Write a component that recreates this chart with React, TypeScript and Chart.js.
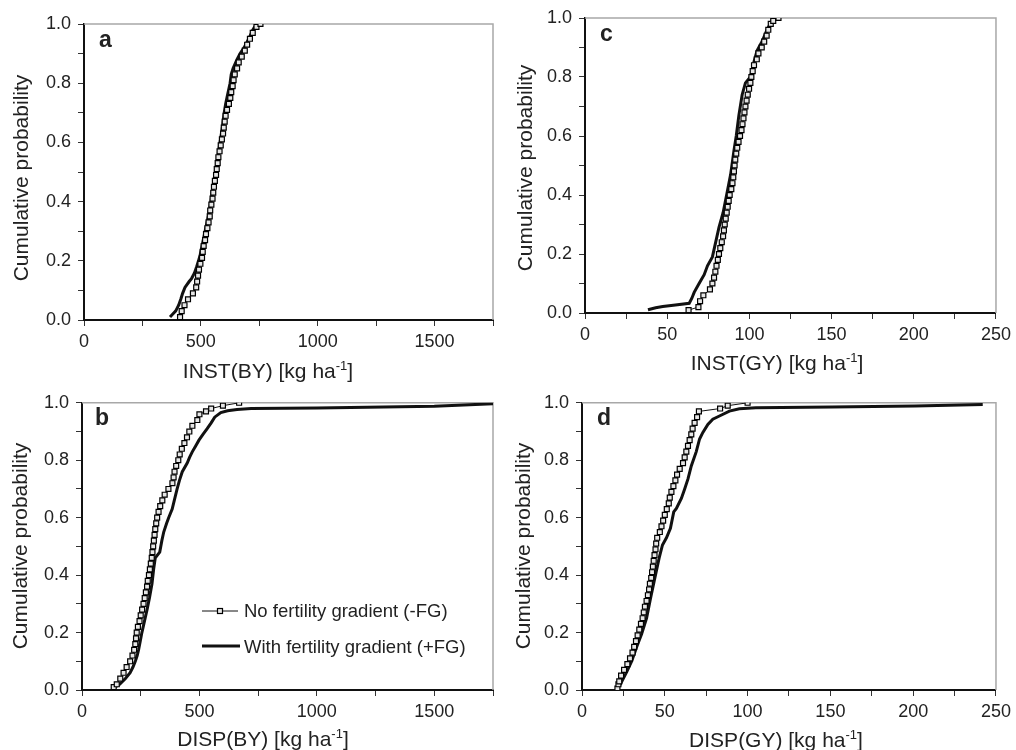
import React, { useEffect, useRef } from 'react';
import { Chart, registerables } from 'chart.js';
Chart.register(...registerables);

// ---------------- DATA ----------------
// Panel a: INST(BY)
const instBY_noFG_x = [411, 418, 430, 445, 466, 480, 484, 488, 492, 498, 505, 508, 512, 518, 522, 528, 533, 538, 540, 545, 550, 553, 556, 560, 565, 568, 572, 575, 580, 585, 590, 595, 598, 602, 606, 612, 620, 626, 630, 636, 640, 645, 655, 662, 675, 688, 698, 710, 722, 738, 755];
const instBY_noFG_p = [0.01, 0.03, 0.05, 0.07, 0.09, 0.11, 0.13, 0.15, 0.17, 0.19, 0.21, 0.23, 0.25, 0.27, 0.29, 0.31, 0.33, 0.35, 0.37, 0.39, 0.41, 0.43, 0.45, 0.47, 0.49, 0.51, 0.53, 0.55, 0.57, 0.59, 0.61, 0.63, 0.65, 0.67, 0.69, 0.71, 0.73, 0.75, 0.77, 0.79, 0.81, 0.83, 0.85, 0.87, 0.89, 0.91, 0.93, 0.95, 0.97, 0.99, 1.0];
const instBY_FG_x = [368, 380, 392, 405, 414, 422, 432, 450, 460, 467, 473, 482, 490, 497, 505, 518, 532, 543, 552, 562, 572, 582, 592, 600, 606, 614, 625, 630, 638, 655, 668, 685, 705, 722, 738];
const instBY_FG_p = [0.01, 0.02, 0.03, 0.05, 0.07, 0.09, 0.11, 0.13, 0.14, 0.15, 0.16, 0.18, 0.20, 0.22, 0.25, 0.30, 0.35, 0.40, 0.45, 0.50, 0.55, 0.60, 0.65, 0.70, 0.73, 0.76, 0.80, 0.83, 0.85, 0.88, 0.90, 0.92, 0.95, 0.98, 1.0];

// Panel b: DISP(BY)
const dispBY_noFG_x = [135, 148, 163, 177, 190, 205, 215, 222, 227, 230, 233, 238, 245, 250, 256, 262, 267, 272, 277, 280, 285, 289, 293, 297, 300, 303, 306, 309, 312, 316, 320, 326, 333, 342, 352, 368, 385, 390, 394, 401, 410, 416, 425, 436, 447, 457, 470, 491, 500, 528, 550, 600, 669];
const dispBY_noFG_p = [0.01, 0.02, 0.04, 0.06, 0.08, 0.10, 0.12, 0.14, 0.16, 0.18, 0.20, 0.22, 0.24, 0.26, 0.28, 0.30, 0.32, 0.34, 0.36, 0.38, 0.40, 0.42, 0.44, 0.46, 0.48, 0.50, 0.52, 0.54, 0.56, 0.58, 0.60, 0.62, 0.64, 0.66, 0.68, 0.70, 0.72, 0.74, 0.76, 0.78, 0.80, 0.82, 0.84, 0.86, 0.88, 0.90, 0.92, 0.94, 0.96, 0.97, 0.98, 0.99, 1.0];
const dispBY_FG_x = [127, 160, 185, 205, 217, 227, 235, 241, 248, 255, 266, 277, 287, 298, 305, 312, 331, 340, 348, 360, 369, 384, 393, 405, 415, 427, 448, 458, 470, 484, 498, 515, 533, 550, 565, 591, 620, 660, 720, 1000, 1500, 1750];
const dispBY_FG_p = [0.003, 0.02, 0.04, 0.06, 0.08, 0.10, 0.12, 0.14, 0.17, 0.20, 0.24, 0.28, 0.32, 0.37, 0.42, 0.46, 0.48, 0.52, 0.55, 0.58, 0.60, 0.63, 0.66, 0.70, 0.73, 0.76, 0.79, 0.81, 0.83, 0.85, 0.87, 0.89, 0.91, 0.93, 0.95, 0.966, 0.972, 0.977, 0.98, 0.982, 0.988, 0.997];

// Panel c: INST(GY)
const instGY_noFG_x = [63, 69, 70, 72, 76, 77.5, 78.5, 79.3, 80, 80.8, 81.5, 82.3, 83.2, 84, 84.5, 85, 85.6, 86.2, 86.8, 87.4, 88, 89, 89.7, 90.2, 90.6, 91, 91.4, 92, 92.6, 93.4, 94.3, 95.2, 95.8, 96.4, 97, 97.6, 98.3, 99, 99.8, 100.6, 101.2, 102, 102.8, 104.5, 105.5, 107.5, 109, 110.5, 111.5, 113, 114.5, 117.7];
const instGY_noFG_p = [0.01, 0.02, 0.04, 0.06, 0.08, 0.10, 0.12, 0.14, 0.16, 0.18, 0.20, 0.22, 0.24, 0.26, 0.28, 0.30, 0.32, 0.34, 0.36, 0.38, 0.40, 0.42, 0.44, 0.46, 0.48, 0.50, 0.52, 0.54, 0.56, 0.58, 0.60, 0.62, 0.64, 0.66, 0.68, 0.70, 0.72, 0.74, 0.76, 0.78, 0.80, 0.82, 0.84, 0.86, 0.88, 0.90, 0.92, 0.94, 0.96, 0.98, 0.99, 1.0];
const instGY_FG_x = [38.3, 43, 47.3, 55, 63.4, 65, 66.4, 69.4, 72.5, 74.5, 77.5, 79.5, 81.5, 84, 86.5, 88.6, 90.6, 92, 93.6, 95.6, 97.6, 100.6, 102.7, 104.7, 107.7, 110.7, 113.7, 116.7];
const instGY_FG_p = [0.011, 0.018, 0.022, 0.027, 0.033, 0.05, 0.07, 0.10, 0.13, 0.16, 0.19, 0.24, 0.29, 0.34, 0.41, 0.47, 0.55, 0.60, 0.67, 0.74, 0.78, 0.80, 0.85, 0.89, 0.92, 0.96, 0.99, 1.0];

// Panel d: DISP(GY)
const dispGY_noFG_x = [21.4, 22, 22.5, 23.6, 25.4, 27.4, 29, 30.5, 31.5, 32.6, 33.6, 34.6, 35.6, 36.6, 37.3, 38, 39, 39.8, 40.5, 41, 41.8, 42.3, 42.8, 43.3, 43.8, 44.4, 44.8, 45.4, 47, 48, 49, 50, 51.2, 52.4, 53, 54, 55.2, 56.4, 57.4, 59, 61, 62, 63, 64, 65, 66, 66.8, 68, 69.5, 70.6, 83.4, 88, 100];
const dispGY_noFG_p = [0.005, 0.02, 0.03, 0.05, 0.07, 0.09, 0.11, 0.13, 0.15, 0.17, 0.19, 0.21, 0.23, 0.25, 0.27, 0.29, 0.31, 0.33, 0.35, 0.37, 0.39, 0.41, 0.43, 0.45, 0.47, 0.49, 0.51, 0.53, 0.55, 0.57, 0.59, 0.61, 0.63, 0.65, 0.67, 0.69, 0.71, 0.73, 0.75, 0.77, 0.79, 0.81, 0.83, 0.85, 0.87, 0.89, 0.91, 0.93, 0.95, 0.97, 0.98, 0.99, 1.0];
const dispGY_FG_x = [21, 23.4, 27, 30, 33, 36, 39, 41.4, 44, 46.6, 48.6, 51, 53.4, 55.4, 57, 60, 62, 64, 66, 69, 71, 73, 76, 79, 83, 89, 95, 105, 151, 201, 242];
const dispGY_FG_p = [0, 0.023, 0.063, 0.10, 0.15, 0.195, 0.25, 0.32, 0.39, 0.46, 0.505, 0.53, 0.563, 0.62, 0.632, 0.667, 0.70, 0.735, 0.78, 0.83, 0.874, 0.897, 0.925, 0.943, 0.954, 0.971, 0.979, 0.983, 0.985, 0.989, 0.994];

// Tick labels & texts
const yTickLabels = ['0.0', '0.2', '0.4', '0.6', '0.8', '1.0'];
const xTickLabelsBY = ['0', '500', '1000', '1500'];
const xTickLabelsGY = ['0', '50', '100', '150', '200', '250'];
const yTitle = 'Cumulative probability';
const legendLabels = ['No fertility gradient (-FG)', 'With fertility gradient (+FG)'];

// ---------------- LAYOUT ----------------
const FONT = '"Liberation Sans", Arial, Helvetica, sans-serif';

type Box = { left: number; top: number; w: number; h: number };
type Area = { l: number; t: number; r: number; b: number };
type PanelDef = {
  id: string;
  letter: string;
  canvas: Box;
  area: Area;
  xMax: number;
  xStep: number;
  xLabels: string[];
  xTitle: string;
  xTitleX: number;
  xTitleBase: number;
  yTitleX: number;
  yTitleY: number;
  letterX: number;
  letterBase: number;
  noFG: { x: number[]; p: number[] };
  FG: { x: number[]; p: number[] };
  legend: boolean;
};

const panels: PanelDef[] = [
  {
    id: 'a', letter: 'a',
    canvas: { left: 0, top: 0, w: 500, h: 385 },
    area: { l: 84, t: 24, r: 493, b: 320 },
    xMax: 1750, xStep: 250, xLabels: xTickLabelsBY,
    xTitle: 'INST(BY) [kg ha', xTitleX: 268, xTitleBase: 378,
    yTitleX: 22, yTitleY: 178,
    letterX: 99, letterBase: 47,
    noFG: { x: instBY_noFG_x, p: instBY_noFG_p },
    FG: { x: instBY_FG_x, p: instBY_FG_p },
    legend: false,
  },
  {
    id: 'c', letter: 'c',
    canvas: { left: 500, top: 0, w: 516, h: 385 },
    area: { l: 585, t: 18, r: 999, b: 313 },
    xMax: 250, xStep: 25, xLabels: xTickLabelsGY,
    xTitle: 'INST(GY) [kg ha', xTitleX: 777, xTitleBase: 370,
    yTitleX: 526, yTitleY: 168,
    letterX: 600, letterBase: 41,
    noFG: { x: instGY_noFG_x, p: instGY_noFG_p },
    FG: { x: instGY_FG_x, p: instGY_FG_p },
    legend: false,
  },
  {
    id: 'b', letter: 'b',
    canvas: { left: 0, top: 385, w: 500, h: 365 },
    area: { l: 82, t: 400, r: 493, b: 690 },
    xMax: 1750, xStep: 250, xLabels: xTickLabelsBY,
    xTitle: 'DISP(BY) [kg ha', xTitleX: 263, xTitleBase: 746,
    yTitleX: 21, yTitleY: 546,
    letterX: 95, letterBase: 425,
    noFG: { x: dispBY_noFG_x, p: dispBY_noFG_p },
    FG: { x: dispBY_FG_x, p: dispBY_FG_p },
    legend: true,
  },
  {
    id: 'd', letter: 'd',
    canvas: { left: 500, top: 385, w: 516, h: 365 },
    area: { l: 582, t: 400, r: 998, b: 690 },
    xMax: 250, xStep: 25, xLabels: xTickLabelsGY,
    xTitle: 'DISP(GY) [kg ha', xTitleX: 776, xTitleBase: 747,
    yTitleX: 524, yTitleY: 546,
    letterX: 597, letterBase: 425,
    noFG: { x: dispGY_noFG_x, p: dispGY_noFG_p },
    FG: { x: dispGY_FG_x, p: dispGY_FG_p },
    legend: false,
  },
];

const toPts = (s: { x: number[]; p: number[] }) => s.x.map((x, i) => ({ x, y: s.p[i] }));

function drawSquare(ctx: CanvasRenderingContext2D, x: number, y: number) {
  ctx.fillStyle = '#e6e6e6';
  ctx.fillRect(x - 2.5, y - 2.5, 5, 5);
  ctx.strokeStyle = '#000';
  ctx.lineWidth = 1.2;
  ctx.strokeRect(x - 2.5, y - 2.5, 5, 5);
}

function makeDecor(def: PanelDef) {
  return {
    id: 'decor_' + def.id,
    beforeDatasetsDraw(chart: any) {
      const { ctx, chartArea: ca } = chart;
      ctx.save();
      ctx.strokeStyle = '#a8a8a8';
      ctx.lineWidth = 1.5;
      ctx.beginPath();
      ctx.moveTo(ca.left, ca.top);
      ctx.lineTo(ca.right, ca.top);
      ctx.lineTo(ca.right, ca.bottom);
      ctx.stroke();
      ctx.restore();
    },
    afterDraw(chart: any) {
      const ctx: CanvasRenderingContext2D = chart.ctx;
      const ox = def.canvas.left;
      const oy = def.canvas.top;
      ctx.save();
      ctx.fillStyle = '#222';
      // panel letter
      ctx.font = `bold 23px ${FONT}`;
      ctx.textAlign = 'left';
      ctx.textBaseline = 'alphabetic';
      ctx.fillText(def.letter, def.letterX - ox, def.letterBase - oy);

      // x title with superscript
      const mainFont = `21px ${FONT}`;
      const supFont = `13px ${FONT}`;
      ctx.font = mainFont;
      const w1 = ctx.measureText(def.xTitle).width;
      const w3 = ctx.measureText(']').width;
      ctx.font = supFont;
      const w2 = ctx.measureText('-1').width;
      let sx = def.xTitleX - ox - (w1 + w2 + w3) / 2;
      const by = def.xTitleBase - oy;
      ctx.font = mainFont;
      ctx.fillText(def.xTitle, sx, by);
      sx += w1;
      ctx.font = supFont;
      ctx.fillText('-1', sx, by - 8);
      sx += w2;
      ctx.font = mainFont;
      ctx.fillText(']', sx, by);

      // y title
      ctx.save();
      ctx.translate(def.yTitleX - ox, def.yTitleY - oy);
      ctx.rotate(-Math.PI / 2);
      ctx.textAlign = 'center';
      ctx.textBaseline = 'middle';
      ctx.font = mainFont;
      ctx.fillText(yTitle, 0, 0);
      ctx.restore();

      // legend
      if (def.legend) {
        ctx.strokeStyle = '#111';
        ctx.lineWidth = 1;
        ctx.beginPath();
        ctx.moveTo(202 - ox, 611 - oy);
        ctx.lineTo(238 - ox, 611 - oy);
        ctx.stroke();
        drawSquare(ctx, 220 - ox, 611 - oy);
        ctx.strokeStyle = '#111';
        ctx.lineWidth = 3;
        ctx.beginPath();
        ctx.moveTo(202 - ox, 646 - oy);
        ctx.lineTo(240 - ox, 646 - oy);
        ctx.stroke();
        ctx.fillStyle = '#222';
        ctx.font = `18.5px ${FONT}`;
        ctx.textAlign = 'left';
        ctx.textBaseline = 'middle';
        ctx.fillText(legendLabels[0], 244 - ox, 612 - oy);
        ctx.fillText(legendLabels[1], 244 - ox, 648 - oy);
      }
      ctx.restore();
    },
  };
}

function Panel({ def }: { def: PanelDef }) {
  const ref = useRef<HTMLCanvasElement>(null);
  useEffect(() => {
    const c = def.canvas;
    const a = def.area;
    const yW = a.l - c.left;
    const xH = 32;
    const padTop = a.t - c.top;
    const padRight = c.left + c.w - a.r;
    const padBottom = c.top + c.h - a.b - xH;
    const chart = new Chart(ref.current as HTMLCanvasElement, {
      type: 'scatter',
      data: {
        datasets: [
          {
            label: legendLabels[0],
            data: toPts(def.noFG),
            showLine: true,
            borderColor: '#111',
            borderWidth: 1,
            pointStyle: 'rect',
            pointRadius: 3.5,
            pointBackgroundColor: '#e6e6e6',
            pointBorderColor: '#000',
            pointBorderWidth: 1.2,
          },
          {
            label: legendLabels[1],
            data: toPts(def.FG),
            showLine: true,
            borderColor: '#111',
            borderWidth: 3,
            pointRadius: 0,
          },
        ],
      },
      options: {
        responsive: false,
        animation: false,
        devicePixelRatio: 1,
        events: [],
        layout: { padding: { left: 0, top: padTop, right: padRight, bottom: padBottom } },
        plugins: { legend: { display: false }, tooltip: { enabled: false } },
        scales: {
          x: {
            type: 'linear',
            min: 0,
            max: def.xMax,
            afterFit: (s: any) => { s.height = xH; },
            ticks: {
              stepSize: def.xStep,
              autoSkip: false,
              maxRotation: 0,
              padding: 5,
              color: '#222',
              font: { family: FONT, size: 18 },
              callback: (v: any) => (def.xLabels.includes(String(v)) ? String(v) : ''),
            },
            grid: { display: true, drawOnChartArea: false, drawTicks: true, tickLength: 6, color: '#333', lineWidth: 1 },
            border: { display: true, color: '#111', width: 2 },
          },
          y: {
            type: 'linear',
            min: 0,
            max: 1,
            afterFit: (s: any) => { s.width = yW; },
            ticks: {
              stepSize: 0.1,
              autoSkip: false,
              padding: 7,
              color: '#222',
              font: { family: FONT, size: 18 },
              callback: (v: any) => {
                const k = Math.round(Number(v) * 10);
                return k % 2 === 0 ? yTickLabels[k / 2] : '';
              },
            },
            grid: { display: true, drawOnChartArea: false, drawTicks: true, tickLength: 6, color: '#333', lineWidth: 1 },
            border: { display: true, color: '#111', width: 2 },
          },
        },
      } as any,
      plugins: [makeDecor(def)],
    });
    return () => chart.destroy();
  }, [def]);
  return (
    <canvas
      ref={ref}
      width={def.canvas.w}
      height={def.canvas.h}
      style={{ position: 'absolute', left: def.canvas.left, top: def.canvas.top, width: def.canvas.w, height: def.canvas.h }}
    />
  );
}

export default function App() {
  return (
    <div>
      {panels.map((p) => (
        <Panel key={p.id} def={p} />
      ))}
    </div>
  );
}
